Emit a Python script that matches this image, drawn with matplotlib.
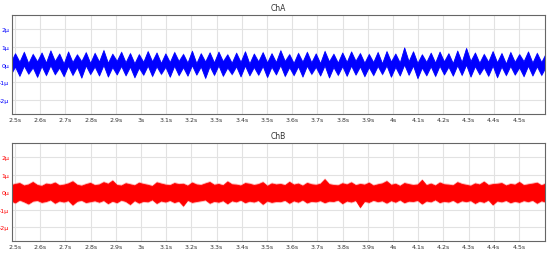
import numpy as np
import matplotlib
matplotlib.use("Agg")
import matplotlib.pyplot as plt

# --- data (values in µ units) ---
T_START = 2.4825      # time of first trough [s]
HALF_PERIOD = 0.01755 # half cycle of the ChA ripple [s]

x_ticks = [2.5, 2.6, 2.7, 2.8, 2.9, 3.0, 3.1, 3.2, 3.3, 3.4, 3.5, 3.6, 3.7, 3.8, 3.9,
           4.0, 4.1, 4.2, 4.3, 4.4, 4.5]
x_labels = ["2.5s", "2.6s", "2.7s", "2.8s", "2.9s", "3s", "3.1s", "3.2s", "3.3s", "3.4s",
            "3.5s", "3.6s", "3.7s", "3.8s", "3.9s", "4s", "4.1s", "4.2s", "4.3s", "4.4s", "4.5s"]
y_ticks = [2, 1, 0, -1, -2]
y_labels = ["2μ", "1μ", "0μ", "-1μ", "-2μ"]

# ChA: band edges at each trough / peak of the ripple
cha_top_valley = [0.12, 0.16, 0.08, 0.18, 0.11, 0.20, 0.06, 0.14, 0.19, 0.09,
                  0.17, 0.10, 0.21, 0.13, 0.07, 0.15, 0.18, 0.09, 0.14, 0.20,
                  0.11, 0.08, 0.17, 0.12, 0.19, 0.10, 0.15, 0.06, 0.18, 0.12,
                  0.14, 0.20, 0.09, 0.16, 0.13, 0.08, 0.18, 0.11, 0.15, 0.21,
                  0.10, 0.14, 0.07, 0.17, 0.12, 0.19, 0.09, 0.15, 0.11, 0.18,
                  0.08, 0.14, 0.20, 0.10, 0.16, 0.13, 0.06, 0.15, 0.19, 0.11, 0.14]
cha_top_peak = [0.64, 0.72, 0.60, 0.68, 0.80, 0.62, 0.74, 0.58, 0.70, 0.66,
                0.82, 0.61, 0.72, 0.65, 0.59, 0.76, 0.68, 0.63, 0.71, 0.60,
                0.78, 0.64, 0.69, 0.73, 0.58, 0.67, 0.75, 0.62, 0.70, 0.64,
                0.81, 0.59, 0.66, 0.72, 0.63, 0.77, 0.61, 0.68, 0.74, 0.65,
                0.60, 0.71, 0.76, 0.62, 0.97, 0.75, 0.58, 0.67, 0.73, 0.64,
                0.79, 0.94, 0.68, 0.60, 0.76, 0.65, 0.71, 0.59, 0.74, 0.66, 0.63]
cha_bot_valley = [-0.55, -0.62, -0.50, -0.68, -0.58, -0.53, -0.64, -0.57, -0.72, -0.52,
                  -0.60, -0.66, -0.54, -0.59, -0.70, -0.56, -0.63, -0.51, -0.67, -0.58,
                  -0.61, -0.55, -0.74, -0.57, -0.62, -0.52, -0.65, -0.59, -0.56, -0.69,
                  -0.54, -0.63, -0.58, -0.66, -0.51, -0.60, -0.71, -0.57, -0.62, -0.55,
                  -0.64, -0.58, -0.52, -0.67, -0.60, -0.56, -0.75, -0.59, -0.63, -0.54,
                  -0.61, -0.57, -0.66, -0.53, -0.62, -0.70, -0.58, -0.55, -0.64, -0.60, -0.57]
cha_bot_peak = [-0.10, -0.04, -0.14, -0.06, -0.02, -0.15, -0.05, -0.11, -0.03, -0.09,
                0.00, -0.12, -0.06, -0.10, -0.16, -0.04, -0.08, -0.11, -0.05, -0.13,
                -0.02, -0.09, -0.07, -0.03, -0.15, -0.08, -0.04, -0.12, -0.06, -0.10,
                -0.01, -0.13, -0.08, -0.05, -0.11, -0.03, -0.12, -0.07, -0.04, -0.09,
                -0.13, -0.06, -0.03, -0.11, 0.02, -0.04, -0.15, -0.08, -0.05, -0.10,
                -0.02, 0.01, -0.07, -0.13, -0.04, -0.09, -0.06, -0.14, -0.05, -0.08, -0.11]

# ChB: noise band edges sampled on the same time grid
chb_top = [0.40, 0.47, 0.52, 0.38, 0.44, 0.58, 0.41, 0.36, 0.49, 0.45,
           0.55, 0.39, 0.43, 0.50, 0.62, 0.42, 0.37, 0.46, 0.53, 0.40,
           0.44, 0.57, 0.48, 0.66, 0.41, 0.38, 0.51, 0.45, 0.39, 0.54,
           0.47, 0.42, 0.35, 0.56, 0.49, 0.43, 0.40, 0.52, 0.46, 0.48,
           0.37, 0.55, 0.44, 0.41, 0.50, 0.58, 0.42, 0.47, 0.39, 0.61,
           0.45, 0.43, 0.38, 0.52, 0.48, 0.41, 0.46, 0.57, 0.36, 0.50,
           0.44, 0.47, 0.40, 0.59, 0.43, 0.49, 0.37, 0.53, 0.45, 0.42,
           0.48, 0.74, 0.46, 0.41, 0.39, 0.51, 0.44, 0.56, 0.40, 0.47,
           0.43, 0.54, 0.38, 0.45, 0.50, 0.63, 0.42, 0.48, 0.36, 0.52,
           0.46, 0.41, 0.44, 0.70, 0.40, 0.49, 0.38, 0.55, 0.45, 0.43,
           0.39, 0.57, 0.47, 0.42, 0.37, 0.50, 0.44, 0.60, 0.41, 0.46,
           0.48, 0.52, 0.38, 0.47, 0.43, 0.58, 0.40, 0.45, 0.49, 0.54, 0.39, 0.50]
chb_bot = [-0.46, -0.58, -0.42, -0.52, -0.64, -0.48, -0.44, -0.55, -0.50, -0.41,
           -0.60, -0.47, -0.53, -0.45, -0.70, -0.49, -0.43, -0.56, -0.51, -0.46,
           -0.54, -0.44, -0.62, -0.48, -0.57, -0.42, -0.50, -0.67, -0.45, -0.59,
           -0.49, -0.52, -0.40, -0.61, -0.47, -0.53, -0.44, -0.56, -0.48, -0.76,
           -0.43, -0.55, -0.50, -0.46, -0.41, -0.60, -0.49, -0.54, -0.45, -0.63,
           -0.46, -0.52, -0.42, -0.57, -0.48, -0.53, -0.44, -0.66, -0.47, -0.55,
           -0.50, -0.51, -0.43, -0.60, -0.46, -0.54, -0.41, -0.58, -0.49, -0.52,
           -0.45, -0.57, -0.48, -0.50, -0.42, -0.62, -0.47, -0.53, -0.44, -0.84,
           -0.49, -0.55, -0.43, -0.51, -0.46, -0.59, -0.45, -0.54, -0.41, -0.57,
           -0.48, -0.50, -0.44, -0.64, -0.47, -0.52, -0.40, -0.56, -0.49, -0.53,
           -0.43, -0.58, -0.46, -0.51, -0.45, -0.61, -0.48, -0.55, -0.42, -0.69,
           -0.47, -0.52, -0.44, -0.57, -0.49, -0.55, -0.45, -0.51, -0.43, -0.60, -0.46, -0.54]

# interleave trough/peak samples into one envelope per edge
cha_top = np.empty(2 * len(cha_top_peak))
cha_top[0::2] = cha_top_valley
cha_top[1::2] = cha_top_peak
cha_bot = np.empty(2 * len(cha_bot_peak))
cha_bot[0::2] = cha_bot_valley
cha_bot[1::2] = cha_bot_peak
t = T_START + HALF_PERIOD * np.arange(len(cha_top))

plt.rcParams["font.family"] = "DejaVu Sans"
fig = plt.figure(figsize=(5.5, 2.55), dpi=100)

panels = [
    ("ChA", [0.0218, 0.549, 0.969, 0.388], cha_top, cha_bot, "#0000ff", "#7f7fff"),
    ("ChB", [0.0218, 0.051, 0.969, 0.384], np.array(chb_top), np.array(chb_bot), "#ff0000", "#ff8080"),
]

for title, rect, top, bot, col, fuzz in panels:
    ax = fig.add_axes(rect)
    # soft halo for the noise fringe, then the dense core of the trace
    ax.fill_between(t, bot - 0.08, top + 0.08, color=fuzz, alpha=0.6, linewidth=0)
    ax.fill_between(t, bot, top, color=col, linewidth=0.6, edgecolor=col)
    ax.set_xlim(2.488, 4.603)
    ax.set_ylim(-2.78, 2.8)
    ax.set_xticks(x_ticks)
    ax.set_xticklabels(x_labels, fontsize=4.5, color="#333333")
    ax.set_yticks(y_ticks)
    ax.set_yticklabels(y_labels, fontsize=4.5, color=col)
    ax.tick_params(axis="both", length=0, pad=2)
    ax.grid(True, color="#e2e2e2", linewidth=0.8)
    ax.set_axisbelow(True)
    for s in ax.spines.values():
        s.set_color("#666666")
        s.set_linewidth(0.8)
    ax.set_title(title, fontsize=5.5, color="#333333", pad=4)

fig.savefig("out.png", dpi=100)
